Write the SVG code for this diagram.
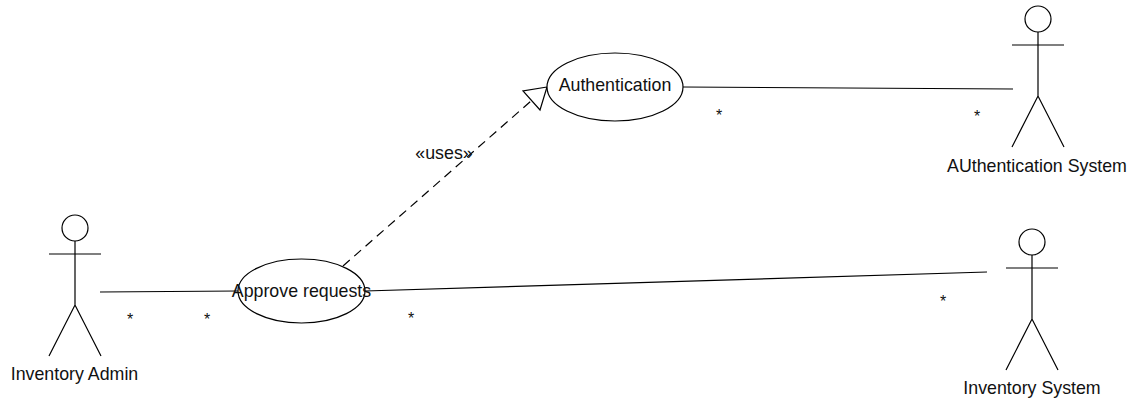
<svg xmlns="http://www.w3.org/2000/svg" width="1135" height="403" viewBox="0 0 1135 403">
<style>
text{font-family:"Liberation Sans",Arial,sans-serif;font-size:17.800px;fill:#111;text-anchor:middle}
.s{fill:none;stroke:#000;stroke-width:1.2}
.e{fill:#fff;stroke:#000;stroke-width:1.2}
text.star{font-size:16px}
</style>
<defs>
<g id="stick" class="s"><circle cx="0" cy="0" r="13"/><path d="M0 13V77M-26 26H26M-26 128L0 77L26 128"/></g>
</defs>
<rect width="1135" height="403" fill="#fff"/>
<g id="connectors">
<path class="s" d="M100 292L238 291"/>
<path class="s" d="M365 291L987 272"/>
<path class="s" d="M683 87L1013 89"/>
<path class="s" stroke-dasharray="9 6" d="M343 266L531 101"/>
<path class="s" stroke-width="1.500" d="M547 87L523 91L540 110Z"/>
</g>
<g id="approve"><ellipse class="e" cx="301.500" cy="291" rx="63.500" ry="32"/><text x="301.500" y="297">Approve requests</text></g>
<g id="authentication"><ellipse class="e" cx="615" cy="87" rx="68" ry="34"/><text x="615" y="91">Authentication</text></g>
<g id="inventory-admin"><use href="#stick" x="75" y="228"/><text x="74.500" y="380">Inventory Admin</text></g>
<g id="authentication-system"><use href="#stick" x="1038" y="19"/><text x="1037" y="172">AUthentication System</text></g>
<g id="inventory-system"><use href="#stick" x="1032" y="242"/><text x="1032" y="394">Inventory System</text></g>
<g id="labels">
<text x="444" y="159">«uses»</text>
<text class="star" x="130" y="325">*</text>
<text class="star" x="207" y="325">*</text>
<text class="star" x="411" y="324">*</text>
<text class="star" x="943" y="307">*</text>
<text class="star" x="719" y="121">*</text>
<text class="star" x="977" y="122">*</text>
</g>
</svg>
